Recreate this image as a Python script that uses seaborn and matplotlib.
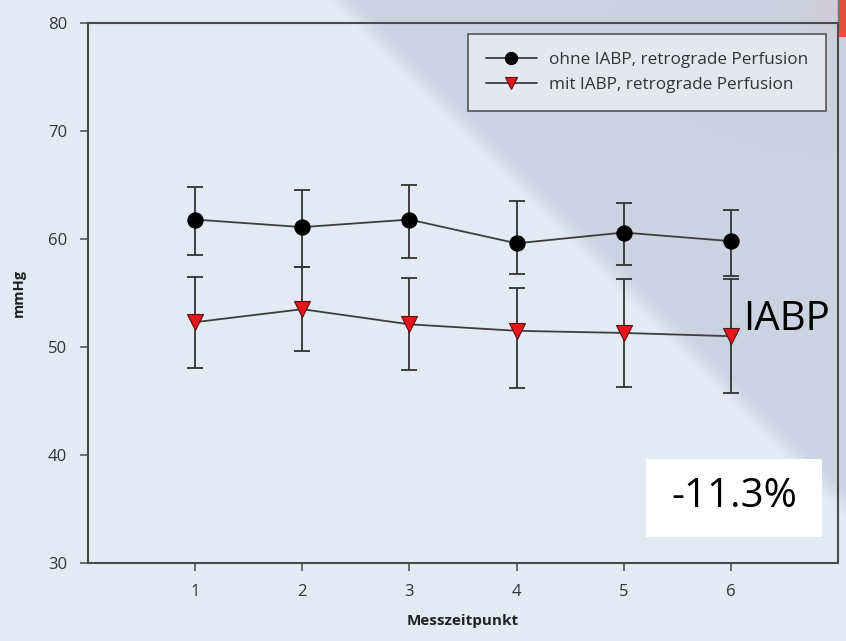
import numpy as np
import pandas as pd
import matplotlib
matplotlib.use("Agg")
import matplotlib.pyplot as plt
from matplotlib.patches import Rectangle
import seaborn as sns

# Measurement points and blood pressure readings (mmHg)
zeitpunkt = [1, 2, 3, 4, 5, 6]

ohne_mean = [61.8, 61.1, 61.8, 59.6, 60.6, 59.8]
ohne_upper = [64.8, 64.5, 65.0, 63.5, 63.3, 62.7]
ohne_lower = [58.5, 57.4, 58.2, 56.8, 57.6, 56.6]

mit_mean = [52.3, 53.5, 52.1, 51.5, 51.3, 51.0]
mit_upper = [56.5, 57.4, 56.4, 55.5, 56.3, 56.3]
mit_lower = [48.1, 49.6, 47.9, 46.2, 46.3, 45.7]

label_ohne = "ohne IABP, retrograde Perfusion"
label_mit = "mit IABP, retrograde Perfusion"

sns.set_theme(style="ticks")
plt.rcParams["font.family"] = ["Open Sans", "DejaVu Sans"]

W, H = 846, 641
fig = plt.figure(figsize=(W / 100, H / 100), dpi=100)

# Slide background: pale blue with a darker diagonal band towards the upper right
bg = fig.add_axes([0, 0, 1, 1], zorder=0)
yy, xx = np.mgrid[0:H, 0:W]
d = (xx - yy - 342) / np.sqrt(2)
t = np.clip(0.5 + d / 24.0, 0, 1)
t = t * t * (3 - 2 * t)
c_light = np.array([227, 233, 245]) / 255
c_dark = np.array([201, 211, 226]) / 255
img = c_light[None, None, :] * (1 - t[..., None]) + c_dark[None, None, :] * t[..., None]
# faint reddish glow next to the corner tab
glow = np.exp(-(((xx - 846) / 40.0) ** 2 + ((yy - 10) / 25.0) ** 2))
img = img * (1 - 0.35 * glow[..., None]) + np.array([0.93, 0.72, 0.75])[None, None, :] * 0.35 * glow[..., None]
bg.imshow(img, extent=[0, W, H, 0], aspect="auto", interpolation="bilinear")
bg.add_patch(Rectangle((839, 0), 7, 37, color="#e2513f", lw=0))
bg.plot([838, 838], [0, 24], color="#6b7280", lw=1.0)
bg.set_xlim(0, W)
bg.set_ylim(H, 0)
bg.axis("off")

ax = fig.add_axes([88 / W, 1 - 563 / H, (838 - 88) / W, (563 - 23) / H], zorder=1)
ax.set_facecolor("none")

df_ohne = pd.DataFrame({"x": zeitpunkt, "y": ohne_mean})
df_mit = pd.DataFrame({"x": zeitpunkt, "y": mit_mean})

err_kw = dict(fmt="none", ecolor="#333333", elinewidth=1.3, capsize=5.5, capthick=1.3, zorder=2)
ax.errorbar(zeitpunkt, ohne_mean,
            yerr=[np.subtract(ohne_mean, ohne_lower), np.subtract(ohne_upper, ohne_mean)], **err_kw)
ax.errorbar(zeitpunkt, mit_mean,
            yerr=[np.subtract(mit_mean, mit_lower), np.subtract(mit_upper, mit_mean)], **err_kw)

sns.lineplot(data=df_ohne, x="x", y="y", ax=ax, color="#3d3d3d", lw=1.3,
             marker="o", markersize=11, markerfacecolor="black", markeredgecolor="black",
             label=label_ohne, zorder=3)
sns.lineplot(data=df_mit, x="x", y="y", ax=ax, color="#3d3d3d", lw=1.3,
             marker="v", markersize=11, markerfacecolor="#e8141c", markeredgecolor="#5a1010",
             markeredgewidth=0.8, label=label_mit, zorder=3)

ax.set_xlim(0, 7)
ax.set_ylim(30, 80)
ax.set_xticks(zeitpunkt)
ax.set_yticks([30, 40, 50, 60, 70, 80])
ax.tick_params(axis="both", direction="out", length=6, width=1.2, color="#555555",
               labelsize=12, labelcolor="#333333", pad=9)
for s in ax.spines.values():
    s.set_color("#4a4a4a")
    s.set_linewidth(1.5)

ax.set_xlabel("Messzeitpunkt", fontsize=11, fontweight="bold", color="#222222", labelpad=10)
ax.set_ylabel("mmHg", fontsize=10.5, fontweight="bold", color="#222222", labelpad=16)

leg = ax.legend(loc="upper right", bbox_to_anchor=(0.984, 0.98), fontsize=12.3,
                frameon=True, fancybox=False, handlelength=3.0, borderpad=1.05,
                labelspacing=0.55, handletextpad=0.7, borderaxespad=0, markerscale=0.8)
leg.get_frame().set_facecolor("#e4e7ed")
leg.get_frame().set_edgecolor("#555555")
leg.get_frame().set_linewidth(1.2)
leg.get_frame().set_alpha(1)
for txt in leg.get_texts():
    txt.set_color("#333333")

# Annotations
fig.text(743 / W, 1 - 320 / H, "IABP", fontsize=29, color="black", va="center", ha="left")
fig.patches.append(Rectangle((646 / W, 1 - 537 / H), (822 - 646) / W, (537 - 459) / H,
                             transform=fig.transFigure, color="white", lw=0, zorder=5))
fig.text(734 / W, 1 - 497 / H, "-11.3%", fontsize=29, color="black", va="center", ha="center",
         zorder=6)

fig.savefig("out.png", dpi=100)
